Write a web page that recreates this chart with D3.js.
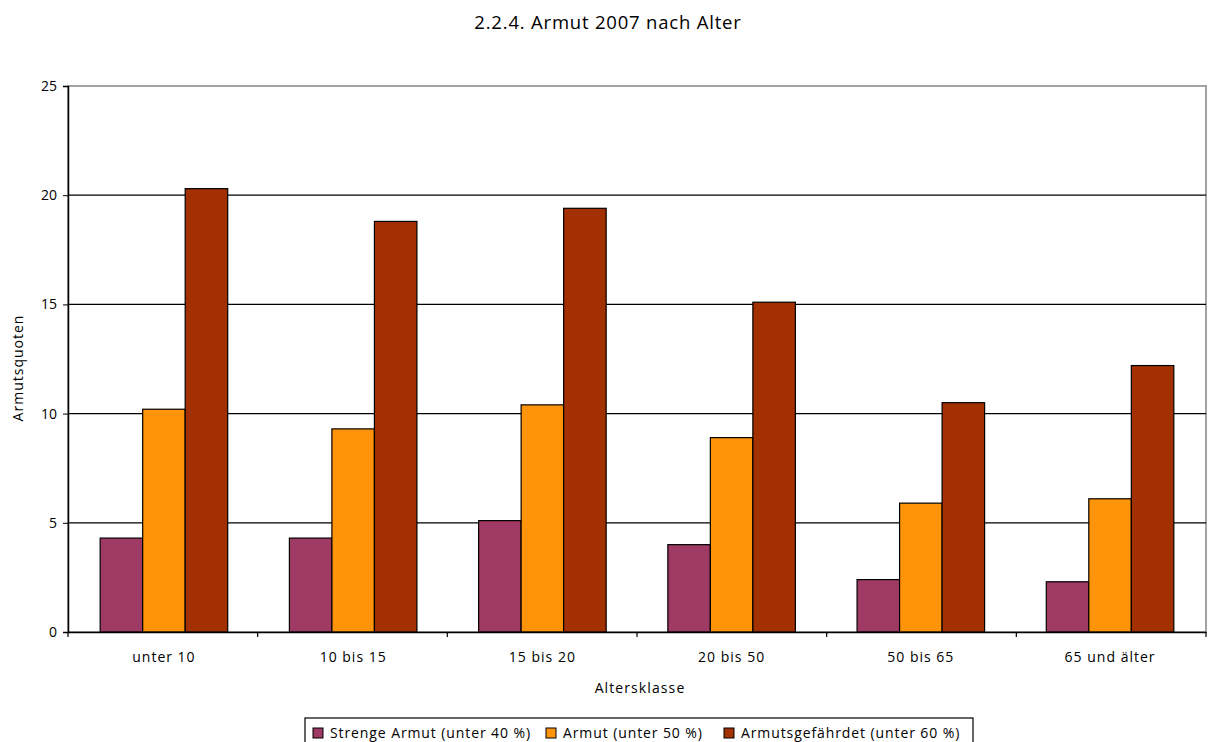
<!DOCTYPE html>
<html><head><meta charset="utf-8">
<script src="https://cdn.jsdelivr.net/npm/d3@7"></script>
<style>body{margin:0;background:#fff;font-family:"Open Sans","Noto Sans",sans-serif;}</style>
</head><body>
<svg id="c" width="1218" height="742"></svg>
<script>
const categories = ["unter 10","10 bis 15","15 bis 20","20 bis 50","50 bis 65","65 und älter"];
const seriesNames = ["Strenge Armut (unter 40 %)","Armut (unter 50 %)","Armutsgefährdet (unter 60 %)"];
const strenge = [4.3,4.3,5.1,4.0,2.4,2.3];
const armut = [10.2,9.3,10.4,8.9,5.9,6.1];
const gefaehrdet = [20.3,18.8,19.4,15.1,10.5,12.2];
const yTicks = [0,5,10,15,20,25];
const colors = ["#9e3a64","#ff9309","#a33000"];
const seriesValues = [strenge, armut, gefaehrdet];

const FF = "'Open Sans','Noto Sans',sans-serif";
const svg = d3.select("#c");
const L=68,R=1206,T=86,B=632;
const x = d3.scaleBand().domain(categories).range([L,R]).paddingInner(0.326).paddingOuter(0.17);
const xs = d3.scaleBand().domain(d3.range(3)).range([0,x.bandwidth()]);
const y = d3.scaleLinear().domain([0,25]).range([B,T]);

svg.append("text").attr("x",608).attr("y",29).attr("text-anchor","middle")
  .attr("font-size",18.5).attr("letter-spacing",0.8).text("2.2.4. Armut 2007 nach Alter");

// plot border
svg.append("rect").attr("x",L).attr("y",T).attr("width",R-L).attr("height",B-T)
  .attr("fill","none").attr("stroke","#999").attr("stroke-width",1.8);
// gridlines
svg.append("g").selectAll("line").data(yTicks.filter(d=>d>0&&d<25)).join("line")
  .attr("x1",L).attr("x2",R).attr("y1",d=>y(d)).attr("y2",d=>y(d)).attr("stroke","#000").attr("stroke-width",1.2);

// bars
const g = svg.append("g");
categories.forEach((c,i)=>{
  seriesValues.forEach((vals,s)=>{
    g.append("rect").attr("x",x(c)+xs(s)).attr("width",xs.bandwidth())
      .attr("y",y(vals[i])).attr("height",y(0)-y(vals[i]))
      .attr("fill",colors[s]).attr("stroke","#000").attr("stroke-width",1.2);
  });
});

// y axis
const ya = svg.append("g").attr("transform",`translate(${L},0)`)
  .call(d3.axisLeft(y).tickValues(yTicks).tickSize(5).tickPadding(6));
ya.select(".domain").attr("stroke","#000").attr("stroke-width",1.5);
ya.selectAll("text").attr("font-size",14).attr("font-family",FF).attr("fill","#000");
// x axis
const xa = svg.append("g").attr("transform",`translate(0,${B})`)
  .call(d3.axisBottom(x).tickSize(0).tickPadding(20));
xa.select(".domain").attr("stroke","#000").attr("stroke-width",1.5);
xa.selectAll("text").attr("font-size",14).attr("letter-spacing",1).attr("font-family",FF).attr("fill","#000");
const bounds = d3.range(categories.length+1).map(k=>L+k*(R-L)/categories.length);
svg.append("g").selectAll("line").data(bounds).join("line")
  .attr("x1",d=>d).attr("x2",d=>d).attr("y1",B).attr("y2",B+5).attr("stroke","#000").attr("stroke-width",1.2);

svg.append("text").attr("x",640).attr("y",693).attr("text-anchor","middle").attr("font-size",14).attr("letter-spacing",1.1).attr("font-weight",500).text("Altersklasse");
svg.append("text").attr("transform","translate(23,368) rotate(-90)").attr("text-anchor","middle").attr("font-size",14).attr("letter-spacing",1).text("Armutsquoten");

// legend
const lg = svg.append("g");
lg.append("rect").attr("x",305).attr("y",718).attr("width",668).attr("height",30).attr("fill","#fff").attr("stroke","#000").attr("stroke-width",1.2);
const legX = [313,546,724];
seriesNames.forEach((n,s)=>{
  lg.append("rect").attr("x",legX[s]).attr("y",728).attr("width",10).attr("height",10).attr("fill",colors[s]).attr("stroke","#000");
  lg.append("text").attr("x",legX[s]+17).attr("y",738).attr("font-size",14).attr("letter-spacing",0.9).text(n);
});
</script>
</body></html>
